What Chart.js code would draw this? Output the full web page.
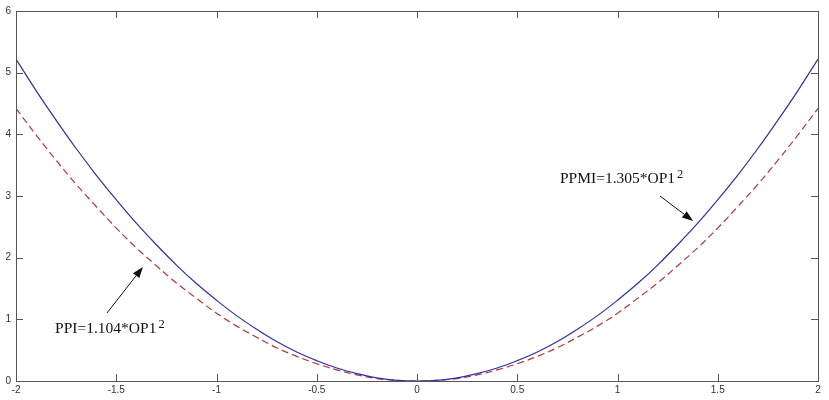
<!DOCTYPE html>
<html>
<head>
<meta charset="utf-8">
<script src="https://cdn.jsdelivr.net/npm/chart.js@4"></script>
<style>
  html, body { margin: 0; padding: 0; background: #fff; }
  #wrap { width: 829px; height: 400px; }
</style>
</head>
<body>
<div id="wrap"><canvas id="curveChart" width="829" height="400"></canvas></div>
<script>
// OP1 values along the x axis
const xValues = [-2, -1.9, -1.8, -1.7, -1.6, -1.5, -1.4, -1.3, -1.2, -1.1, -1, -0.9, -0.8, -0.7, -0.6, -0.5, -0.4, -0.3, -0.2, -0.1,
    0, 0.1, 0.2, 0.3, 0.4, 0.5, 0.6, 0.7, 0.8, 0.9, 1, 1.1, 1.2, 1.3, 1.4, 1.5, 1.6, 1.7, 1.8, 1.9, 2];

// PPMI curve (solid blue)
const ppmiValues = [5.22, 4.71, 4.23, 3.77, 3.34, 2.94, 2.56, 2.21, 1.88, 1.58, 1.31, 1.06, 0.84, 0.64, 0.47, 0.33, 0.21, 0.12, 0.05, 0.01,
    0, 0.01, 0.05, 0.12, 0.21, 0.33, 0.47, 0.64, 0.84, 1.06, 1.31, 1.58, 1.88, 2.21, 2.56, 2.94, 3.34, 3.77, 4.23, 4.71, 5.22];

// PPI curve (dashed red)
const ppiValues = [4.42, 3.99, 3.58, 3.19, 2.83, 2.48, 2.16, 1.87, 1.59, 1.34, 1.10, 0.89, 0.71, 0.54, 0.40, 0.28, 0.18, 0.10, 0.04, 0.01,
    0, 0.01, 0.04, 0.10, 0.18, 0.28, 0.40, 0.54, 0.71, 0.89, 1.10, 1.34, 1.59, 1.87, 2.16, 2.48, 2.83, 3.19, 3.58, 3.99, 4.42];

// Annotation texts
const labelTexts = ['PPMI=1.305*OP1', 'PPI=1.104*OP1'];

// Annotations placed in data coordinates
const notes = [
    { text: labelTexts[0], at: [0.713, 3.21], from: [1.212, 3.0], to: [1.377, 2.595] },
    { text: labelTexts[1], at: [-1.805, 0.778], from: [-1.546, 1.103], to: [-1.367, 1.849] }
];

function toPoints(ys) {
    return xValues.map((x, i) => ({ x: x, y: ys[i] }));
}

// Frame with inward tick marks on all four sides
const framePlugin = {
    id: 'frame',
    afterDraw(chart) {
        const ctx = chart.ctx;
        const a = chart.chartArea;
        const xs = chart.scales.x;
        const ys = chart.scales.y;
        ctx.save();
        ctx.strokeStyle = '#555';
        ctx.lineWidth = 1;
        ctx.strokeRect(a.left + 0.5, a.top + 0.5, a.right - a.left, a.bottom - a.top);
        ctx.beginPath();
        xs.ticks.forEach(t => {
            const px = Math.round(xs.getPixelForValue(t.value)) + 0.5;
            ctx.moveTo(px, a.bottom); ctx.lineTo(px, a.bottom - 7);
            ctx.moveTo(px, a.top); ctx.lineTo(px, a.top + 7);
        });
        ys.ticks.forEach(t => {
            const py = Math.round(ys.getPixelForValue(t.value)) + 0.5;
            ctx.moveTo(a.left, py); ctx.lineTo(a.left + 7, py);
            ctx.moveTo(a.right, py); ctx.lineTo(a.right - 7, py);
        });
        ctx.stroke();
        ctx.restore();
    }
};

// Text labels with superscript 2 and arrows
const notePlugin = {
    id: 'notes',
    afterDraw(chart) {
        const ctx = chart.ctx;
        const xs = chart.scales.x;
        const ys = chart.scales.y;
        ctx.save();
        notes.forEach(n => {
            const tx = xs.getPixelForValue(n.at[0]);
            const ty = ys.getPixelForValue(n.at[1]);
            ctx.fillStyle = '#111';
            ctx.font = '15.5px "Liberation Serif", "DejaVu Serif", serif';
            ctx.textBaseline = 'alphabetic';
            ctx.fillText(n.text, tx, ty);
            const w = ctx.measureText(n.text).width;
            ctx.font = '12.5px "Liberation Serif", "DejaVu Serif", serif';
            ctx.fillText('2', tx + w + 2, ty - 5);

            // arrow
            const x1 = xs.getPixelForValue(n.from[0]);
            const y1 = ys.getPixelForValue(n.from[1]);
            const x2 = xs.getPixelForValue(n.to[0]);
            const y2 = ys.getPixelForValue(n.to[1]);
            const ang = Math.atan2(y2 - y1, x2 - x1);
            const len = 11, half = 4;
            const bx = x2 - len * Math.cos(ang);
            const by = y2 - len * Math.sin(ang);
            ctx.strokeStyle = '#111';
            ctx.lineWidth = 1;
            ctx.beginPath();
            ctx.moveTo(x1, y1);
            ctx.lineTo(bx, by);
            ctx.stroke();
            ctx.beginPath();
            ctx.moveTo(x2, y2);
            ctx.lineTo(bx + half * Math.sin(ang), by - half * Math.cos(ang));
            ctx.lineTo(bx - half * Math.sin(ang), by + half * Math.cos(ang));
            ctx.closePath();
            ctx.fill();
        });
        ctx.restore();
    }
};

const tickFont = { family: '"Liberation Sans Narrow", "Liberation Sans", sans-serif', size: 10 };

new Chart(document.getElementById('curveChart').getContext('2d'), {
    type: 'line',
    data: {
        datasets: [{
            label: 'PPMI',
            data: toPoints(ppmiValues),
            borderColor: '#2f2fa8',
            borderWidth: 1.2,
            pointRadius: 0,
            tension: 0.4,
            fill: false
        }, {
            label: 'PPI',
            data: toPoints(ppiValues),
            borderColor: '#b5373d',
            borderWidth: 1.2,
            borderDash: [7, 4],
            pointRadius: 0,
            tension: 0.4,
            fill: false
        }]
    },
    options: {
        responsive: false,
        animation: false,
        layout: { padding: { top: 11, right: 11, left: 0, bottom: 0 } },
        plugins: {
            legend: { display: false },
            tooltip: { enabled: false }
        },
        scales: {
            x: {
                type: 'linear',
                min: -2,
                max: 2,
                grid: { display: false, drawTicks: false },
                border: { display: false },
                ticks: {
                    stepSize: 0.5, color: '#333', font: tickFont, padding: 3, maxRotation: 0,
                    callback: function(value) { return String(Number(value.toFixed(1))); }
                },
                afterFit: function(scale) { scale.height = 19; }
            },
            y: {
                min: 0,
                max: 6,
                grid: { display: false, drawTicks: false },
                border: { display: false },
                ticks: { stepSize: 1, color: '#333', font: tickFont, padding: 5 },
                afterFit: function(scale) { scale.width = 16; }
            }
        }
    },
    plugins: [framePlugin, notePlugin]
});
</script>
</body>
</html>
